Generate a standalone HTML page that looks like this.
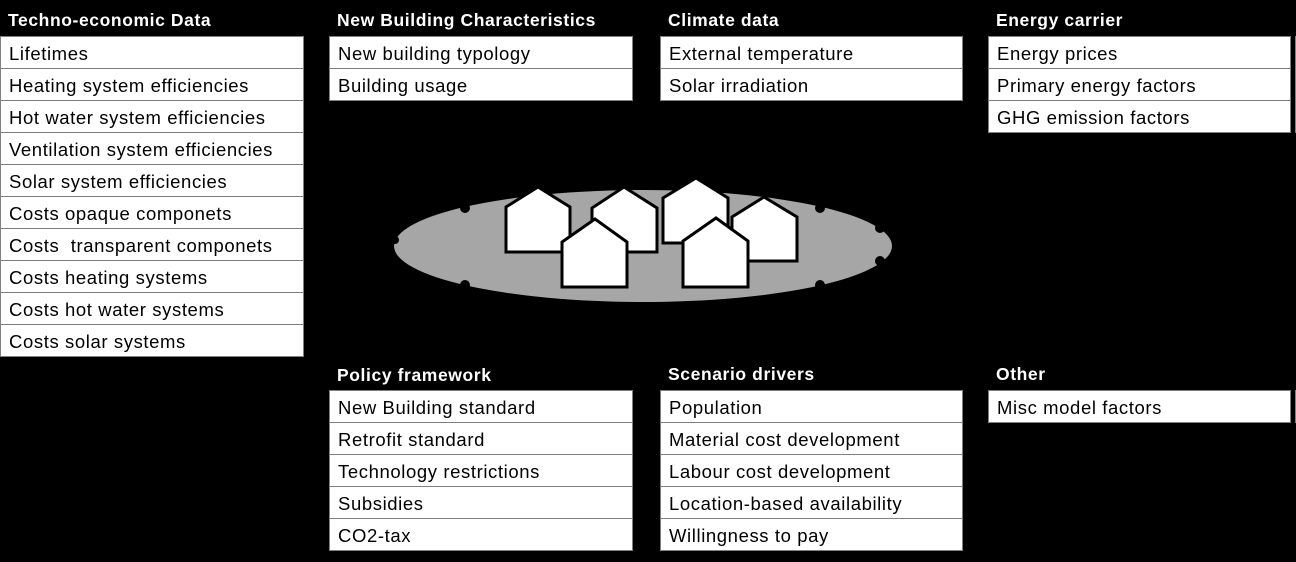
<!DOCTYPE html>
<html><head><meta charset="utf-8"><style>
body{margin:0;width:1296px;height:562px;background:#000;position:relative;overflow:hidden;font-family:"Liberation Sans",sans-serif;}
.h{position:absolute;color:#fff;font-weight:bold;font-size:17.5px;letter-spacing:0.6px;}
.b{position:absolute;background:#fff;border:1px solid #7f7f7f;box-sizing:border-box;height:33px;font-size:18.5px;letter-spacing:0.6px;line-height:33px;padding-left:8px;color:#000;white-space:nowrap;overflow:hidden;}
</style></head><body>
<div class="h" style="left:8px;top:10px">Techno-economic Data</div>
<div class="h" style="left:337px;top:10px">New Building Characteristics</div>
<div class="h" style="left:668px;top:10px">Climate data</div>
<div class="h" style="left:996px;top:10px">Energy carrier</div>
<div class="h" style="left:337px;top:365px">Policy framework</div>
<div class="h" style="left:668px;top:364px">Scenario drivers</div>
<div class="h" style="left:996px;top:364px">Other</div>

<div class="b" style="left:0;top:36px;width:304px">Lifetimes</div>
<div class="b" style="left:0;top:68px;width:304px">Heating system efficiencies</div>
<div class="b" style="left:0;top:100px;width:304px">Hot water system efficiencies</div>
<div class="b" style="left:0;top:132px;width:304px">Ventilation system efficiencies</div>
<div class="b" style="left:0;top:164px;width:304px">Solar system efficiencies</div>
<div class="b" style="left:0;top:196px;width:304px">Costs opaque componets</div>
<div class="b" style="left:0;top:228px;width:304px">Costs &nbsp;transparent componets</div>
<div class="b" style="left:0;top:260px;width:304px">Costs heating systems</div>
<div class="b" style="left:0;top:292px;width:304px">Costs hot water systems</div>
<div class="b" style="left:0;top:324px;width:304px">Costs solar systems</div>

<div class="b" style="left:329px;top:36px;width:304px">New building typology</div>
<div class="b" style="left:329px;top:68px;width:304px">Building usage</div>

<div class="b" style="left:660px;top:36px;width:303px">External temperature</div>
<div class="b" style="left:660px;top:68px;width:303px">Solar irradiation</div>

<div class="b" style="left:988px;top:36px;width:303px">Energy prices</div>
<div class="b" style="left:988px;top:68px;width:303px">Primary energy factors</div>
<div class="b" style="left:988px;top:100px;width:303px">GHG emission factors</div>
<div class="b" style="left:1295px;top:36px;width:10px"></div>
<div class="b" style="left:1295px;top:68px;width:10px"></div>
<div class="b" style="left:1295px;top:100px;width:10px"></div>

<div class="b" style="left:329px;top:390px;width:304px">New Building standard</div>
<div class="b" style="left:329px;top:422px;width:304px">Retrofit standard</div>
<div class="b" style="left:329px;top:454px;width:304px">Technology restrictions</div>
<div class="b" style="left:329px;top:486px;width:304px">Subsidies</div>
<div class="b" style="left:329px;top:518px;width:304px">CO2-tax</div>

<div class="b" style="left:660px;top:390px;width:303px">Population</div>
<div class="b" style="left:660px;top:422px;width:303px">Material cost development</div>
<div class="b" style="left:660px;top:454px;width:303px">Labour cost development</div>
<div class="b" style="left:660px;top:486px;width:303px">Location-based availability</div>
<div class="b" style="left:660px;top:518px;width:303px">Willingness to pay</div>

<div class="b" style="left:988px;top:390px;width:303px">Misc model factors</div>
<div class="b" style="left:1295px;top:390px;width:10px"></div>

<svg style="position:absolute;left:0;top:0" width="1296" height="562">
<ellipse cx="643" cy="246" rx="249" ry="56" fill="#a6a6a6"/>
<g fill="#000">
<circle cx="465" cy="208" r="5"/><circle cx="820" cy="208" r="5"/>
<circle cx="395" cy="240" r="4"/><circle cx="880" cy="228" r="5"/>
<circle cx="880" cy="261" r="5"/><circle cx="465" cy="285" r="5"/><circle cx="820" cy="285" r="5"/>
</g>
<g fill="#fff" stroke="#000" stroke-width="3">
<polygon points="506,252 506,207 538,187 570,207 570,252"/>
<polygon points="592,252 592,208 624,187 657,208 657,252"/>
<polygon points="663,243 663,198 696,178 728,198 728,243"/>
<polygon points="732,261 732,217 764,197 797,217 797,261"/>
<polygon points="562,287 562,242 595,219 627,242 627,287"/>
<polygon points="683,287 683,241 716,218 748,241 748,287"/>
</g>
</svg>
</body></html>
